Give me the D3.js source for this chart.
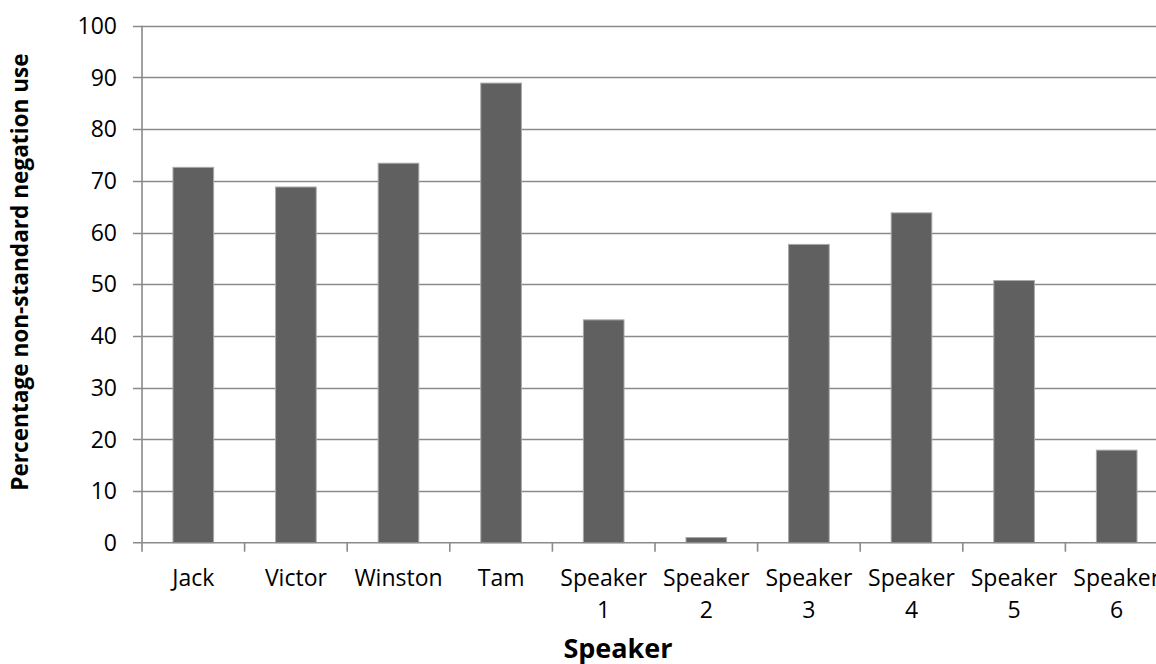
<!DOCTYPE html>
<html>
<head>
<meta charset="utf-8">
<script src="https://cdn.jsdelivr.net/npm/d3@7"></script>
<style>
  html, body { margin: 0; padding: 0; background: #ffffff; }
  svg { display: block; }
  text { font-family: "Open Sans", "Noto Sans", sans-serif; fill: #000; }
</style>
</head>
<body>
<svg id="chart" width="1156" height="664"></svg>
<script>
// Speakers and their share of non-standard negation (%)
const speakers = ["Jack", "Victor", "Winston", "Tam", "Speaker 1", "Speaker 2", "Speaker 3", "Speaker 4", "Speaker 5", "Speaker 6"];
const percentages = [72.6, 68.8, 73.4, 88.9, 43.1, 1.0, 57.7, 63.8, 50.7, 17.9];
const yTicks = [0, 10, 20, 30, 40, 50, 60, 70, 80, 90, 100];

const svg = d3.select("#chart");

const plotLeft = 142, plotRight = 1168, plotTop = 25.7, plotBottom = 542.7;

const x = d3.scaleBand()
  .domain(speakers)
  .range([plotLeft, plotRight])
  .paddingInner(0.604)
  .paddingOuter(0.302);

const y = d3.scaleLinear().domain([0, 100]).range([plotBottom, plotTop]);

// horizontal gridlines with small ticks to the left of the axis
svg.append("g").selectAll("line")
  .data(yTicks.filter(d => d > 0))
  .join("line")
  .attr("x1", plotLeft - 9).attr("x2", 1156)
  .attr("y1", d => Math.round(y(d)) + 0.5).attr("y2", d => Math.round(y(d)) + 0.5)
  .attr("stroke", "#8a8a8a").attr("stroke-width", 1.6);

// y tick labels
svg.append("g").selectAll("text")
  .data(yTicks)
  .join("text")
  .attr("x", 117)
  .attr("y", d => y(d))
  .attr("dy", "0.36em")
  .attr("text-anchor", "end")
  .style("font-size", "23px")
  .text(d => d);

// bars
svg.append("g").selectAll("rect")
  .data(speakers.map((s, i) => ({ s, v: percentages[i] })))
  .join("rect")
  .attr("x", d => x(d.s))
  .attr("width", x.bandwidth())
  .attr("y", d => y(d.v))
  .attr("height", d => y(0) - y(d.v))
  .attr("fill", "#606060")
  .attr("stroke", "#a8a8a8")
  .attr("stroke-width", 1);

// vertical axis line
svg.append("line")
  .attr("x1", plotLeft).attr("x2", plotLeft)
  .attr("y1", y(100)).attr("y2", plotBottom)
  .attr("stroke", "#8a8a8a").attr("stroke-width", 1.6);

// horizontal axis line
svg.append("line")
  .attr("x1", plotLeft - 9).attr("x2", 1156)
  .attr("y1", plotBottom).attr("y2", plotBottom)
  .attr("stroke", "#8a8a8a").attr("stroke-width", 1.6);

// category boundary ticks
const step = x.step();
const boundaries = d3.range(speakers.length + 1).map(i => plotLeft + i * step);
svg.append("g").selectAll("line")
  .data(boundaries)
  .join("line")
  .attr("x1", d => d).attr("x2", d => d)
  .attr("y1", plotBottom).attr("y2", plotBottom + 9)
  .attr("stroke", "#8a8a8a").attr("stroke-width", 1.6);

// category labels, wrapped onto two lines where they contain a space
const labels = svg.append("g").selectAll("text")
  .data(speakers)
  .join("text")
  .attr("text-anchor", "middle")
  .style("font-size", "23px");
labels.each(function(d) {
  const cx = x(d) + x.bandwidth() / 2;
  const parts = d.split(" ");
  const t = d3.select(this);
  parts.forEach((p, i) => {
    t.append("tspan").attr("x", cx).attr("y", 586 + i * 32).text(p);
  });
});

// axis titles
svg.append("text")
  .attr("x", 618).attr("y", 658)
  .attr("text-anchor", "middle")
  .style("font-size", "27px").style("font-weight", "bold")
  .text("Speaker");

svg.append("text")
  .attr("transform", "translate(28,272) rotate(-90)")
  .attr("text-anchor", "middle")
  .style("font-size", "22.6px").style("font-weight", "bold")
  .text("Percentage non-standard negation use");
</script>
</body>
</html>
